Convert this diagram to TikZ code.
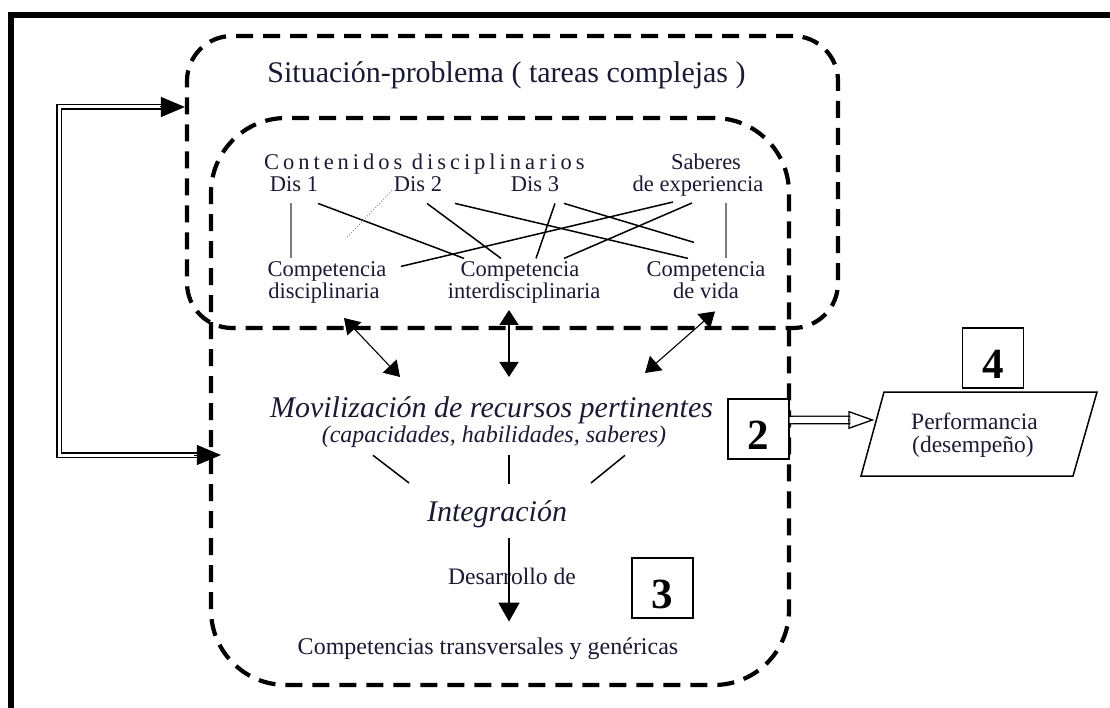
\documentclass[tikz,border=0pt]{standalone}
\usepackage{fontspec}
\setmainfont{Liberation Serif}
\usetikzlibrary{arrows.meta,calc}
\definecolor{ink}{RGB}{26,26,52}
\definecolor{greyline}{RGB}{125,125,125}

\begin{document}
\begin{tikzpicture}[x=1pt,y=-1pt,
  zone/.style={draw, line width=4.2pt, dash pattern=on 17pt off 10pt,
               rounded corners=#1, inner sep=0pt},
  lbl/.style={text=ink, inner sep=0pt, anchor=base},
  mid/.style={font=\fontsize{22.5}{26}\selectfont},
  big/.style={font=\fontsize{30}{34}\selectfont},
  bigit/.style={font=\fontsize{30}{34}\selectfont\itshape},
  link/.style={line width=1.5pt},
  greylink/.style={line width=1.5pt, greyline},
  twoway/.style={{Triangle[length=15pt,width=19pt]}-{Triangle[length=15pt,width=19pt]}},
  dbl/.style={double, line width=1.9pt, double distance=3pt},
  solidhead/.style={line width=1pt, -{Triangle[length=24pt,width=20pt]}},
  numbox/.style={draw, line width=1.4pt, fill=white, inner sep=0pt, anchor=base,
                 minimum width=61pt, text height=50pt, text depth=10pt,
                 font=\fontsize{43}{43}\selectfont\bfseries}
]
\useasboundingbox (0,0) rectangle (1110,708);
\clip (0,0) rectangle (1110,708);

% outer frame
\draw[line width=6pt] (10.5,760) -- (10.5,15) -- (1160,15);

% dashed zones
\node[zone=45, minimum width=651pt, minimum height=292pt] (sit) at (512.5,182) {};
\node[zone=75, minimum width=578pt, minimum height=567pt] (core) at (500,401.5) {};

% headings
\node[lbl, big] (title) at (506.5,83) {Situación-problema ( tareas complejas )};
\node[lbl, anchor=base west, font=\fontsize{22.5}{26}\selectfont\addfontfeature{LetterSpace=17.6}]
  (cont) at (264,170) {Contenidos disciplinarios};
\node[lbl, mid] (d1) at (294,192) {Dis 1};
\node[lbl, mid] (d2) at (418,192) {Dis 2};
\node[lbl, mid] (d3) at (535,192) {Dis 3};
\node[lbl, mid] (sab) at (706,170) {Saberes};
\node[lbl, mid] (exp) at (698,192) {de experiencia};

% competences
\node[lbl, mid] (cd1) at (327,277) {Competencia};
\node[lbl, mid] (cd2) at (324,299) {disciplinaria};
\node[lbl, mid] (ci1) at (520,277) {Competencia};
\node[lbl, mid] (ci2) at (524,299) {interdisciplinaria};
\node[lbl, mid] (cv1) at (706,277) {Competencia};
\node[lbl, mid] (cv2) at (706,299) {de vida};

% links between contents and competences
\draw[greylink] ($(d1.south)+(-3,11)$) -- ($(cd1.north)+(-36,-3.5)$);
\draw[link] ($(d1.south)+(24,11)$) -- ($(ci1.north)+(-56,-3.5)$);
\draw[greyline, line width=0.9pt, dotted] ($(d2.south)+(-26,-2)$) -- ($(d2.south)+(-71,45)$);
\draw[link] ($(d2.south)+(9,11)$) -- ($(ci1.north)+(-19,-3.5)$);
\draw[link] ($(d2.south)+(37,11)$) -- ($(cv1.north)+(-18,-3.5)$);
\draw[link] ($(d3.south)+(20,11)$) -- ($(ci1.north)+(16,-3.5)$);
\draw[link] ($(d3.south)+(29,11)$) -- ($(cv1.north)+(-12,-19.5)$);
\draw[link] ($(exp.south)+(-25,5)$) -- ($(cd1.north)+(74,4.5)$);
\draw[link] ($(exp.south)+(-6,6)$) -- ($(ci1.north)+(44,-3.5)$);
\draw[greylink] ($(exp.south)+(28,6)$) -- ($(cv1.north)+(20,-3.5)$);

% mobilisation block
\node[lbl, bigit] (mov) at (491.5,417) {Movilización de recursos pertinentes};
\node[lbl, font=\fontsize{24}{28}\selectfont\itshape] (cap) at (494,442) {(capacidades, habilidades, saberes)};
\node[lbl, bigit] (integ) at (497,521) {Integración};
\node[lbl, font=\fontsize{23.6}{28}\selectfont] (des) at (512,584) {Desarrollo de};
\node[lbl, font=\fontsize{24}{28}\selectfont] (trans) at (488,654) {Competencias transversales y genéricas};

% competences <-> mobilisation
\draw[twoway, line width=1.1pt] ($(cd2.south)+(20,14)$) -- ($(mov.north)+(-91.5,-19)$);
\draw[twoway, line width=1.8pt] ($(ci2.south)+(-15,6)$) -- ($(mov.north)+(17.5,-19)$);
\draw[twoway, line width=1.1pt] ($(cv2.south)+(9,12)$) -- ($(mov.north)+(153.5,-23)$);

% integration strokes
\draw[link] ($(cap.south)+(-121,8)$) -- ($(integ.north)+(-88,-17)$);
\draw[link] ($(cap.south)+(15,8)$) -- ($(integ.north)+(12,-16)$);
\draw[link] ($(cap.south)+(131,8)$) -- ($(integ.north)+(94,-17)$);
\draw[line width=1.8pt, -{Triangle[length=19pt,width=21pt]}]
  ($(integ.south)+(12,10.5)$) -- ($(trans.north)+(21,-15.5)$);

% feedback loop on the left
\coordinate (loopT) at (59,107);
\coordinate (loopB) at (59,455);
\coordinate (inT) at (sit.west |- loopT);
\coordinate (inB) at ($(core.west |- loopB)+(12,0)$);
\draw[dbl] ($(inT)+(-22,0)$) -- (loopT) -- (loopB) -- ($(inB)+(-24,0)$);
\draw[solidhead] ($(inT)+(-25,0)$) -- (inT);
\draw[solidhead] ($(inB)+(-27,0)$) -- (inB);

% numbered boxes
\node[numbox] (n2) at (758.5,449) {2};
\node[numbox] (n3) at (662.5,608) {3};
\node[numbox] (n4) at (993,378) {4};

% performance parallelogram
\coordinate (p1) at (884,392);
\coordinate (p2) at (1097,392);
\coordinate (p3) at (1073,476);
\coordinate (p4) at (861,476);
\draw[line width=1.5pt, line join=miter] (p1) -- (p2) -- (p3) -- (p4) -- cycle;
\node[lbl, anchor=base west, font=\fontsize{23.5}{28}\selectfont] (perf) at (911,429) {Performancia};
\node[lbl, anchor=base west, font=\fontsize{23.5}{28}\selectfont] (perf2) at (912,452) {(desempeño)};
\coordinate (perfin) at ($(p1)!0.333!(p4)$);
\draw[double, line width=1.3pt, double distance=6pt] ($(n2.east)+(0,-9)$) -- ($(perfin)+(-26,0)$);
\draw[line width=1.3pt, -{Triangle[open,length=26pt,width=18pt]}] ($(perfin)+(-28,0)$) -- ($(perfin)+(-2,0)$);
\end{tikzpicture}
\end{document}
